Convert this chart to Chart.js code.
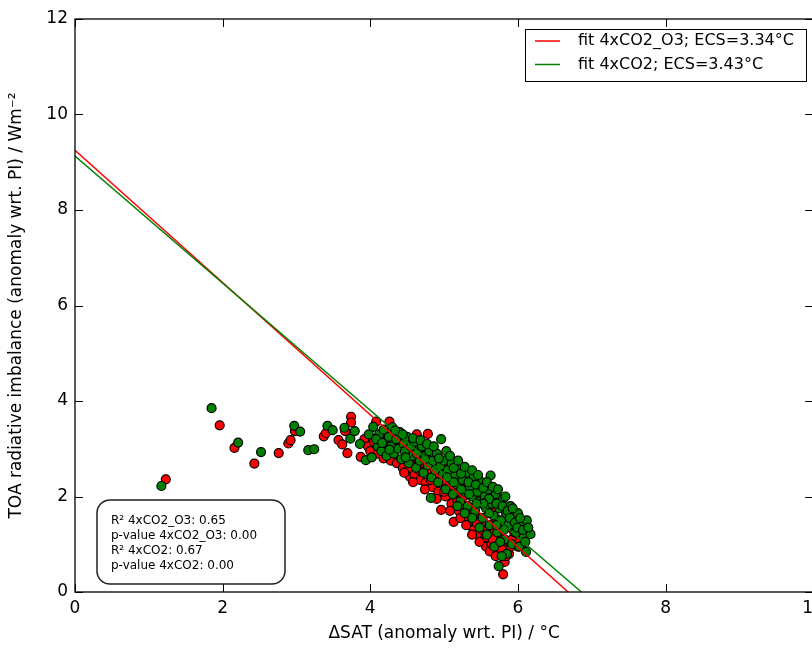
<!DOCTYPE html>
<html>
<head>
<meta charset="utf-8">
<script src="https://cdn.jsdelivr.net/npm/chart.js@4.4.0/dist/chart.umd.min.js"></script>
<style>
  html, body { margin: 0; padding: 0; overflow: hidden; background: #fff; }
  #wrap { width: 812px; height: 648px; overflow: hidden; }
  canvas { display: block; }
</style>
</head>
<body>
<div id="wrap"><canvas id="myChart" width="830" height="648"></canvas></div>
<script>
// data
const xTicks = [0, 2, 4, 6, 8, 10];
const yTicks = [0, 2, 4, 6, 8, 10, 12];

const redX = [1.23, 1.96, 2.16, 2.43, 2.76, 2.89, 2.92, 2.98, 3.37, 3.40, 3.57, 3.62, 3.66, 3.69, 3.74, 3.74, 3.87,
  3.92, 3.97, 4.00, 4.05, 4.08, 4.10, 4.14, 4.18, 4.22, 4.26, 4.28, 4.32, 4.36, 4.40, 4.44, 4.48, 4.52, 4.54, 4.56,
  4.60, 4.63, 4.65, 4.68, 4.72, 4.75, 4.78, 4.80, 4.84, 4.88, 4.92, 4.96, 4.98, 5.02, 5.06, 5.10, 5.13, 5.15, 5.20,
  5.24, 5.28, 5.32, 5.36, 5.40, 5.42, 5.46, 5.50, 5.54, 5.57, 5.60, 5.64, 5.68, 5.72, 5.76, 5.80, 5.82, 5.85, 5.88,
  5.92, 6.00, 6.05, 4.70, 4.90, 5.10, 5.30, 5.50, 5.70, 5.90, 4.50, 4.85, 5.05, 5.25, 5.45, 5.65, 5.85,
  4.46, 4.58, 4.66, 4.74, 4.82, 4.90, 5.00, 5.08, 5.18, 5.22, 5.30, 5.34, 5.38, 5.44, 5.48, 5.52, 5.58, 5.62, 5.66,
  5.70, 5.74, 5.78, 5.84, 5.90, 5.95, 6.02];
const redY = [2.36, 3.49, 3.02, 2.69, 2.91, 3.11, 3.18, 3.37, 3.26, 3.33, 3.18, 3.09, 3.37, 2.91, 3.67, 3.55, 2.83,
  3.20, 3.05, 2.95, 3.15, 3.57, 2.90, 3.10, 2.80, 3.00, 3.57, 2.75, 2.95, 2.70, 3.10, 2.60, 2.85, 2.55, 2.41, 2.80,
  2.45, 3.30, 2.70, 2.35, 2.60, 2.29, 3.31, 2.50, 2.20, 2.40, 2.10, 1.72, 2.30, 2.00, 2.20, 1.85, 1.47, 2.05, 1.70,
  1.95, 1.55, 1.80, 1.40, 1.30, 1.65, 1.20, 1.50, 1.10, 0.95, 1.35, 1.00, 1.25, 0.85, 1.15, 0.37, 0.63, 1.00, 0.80,
  1.10, 0.95, 1.20, 2.90, 2.70, 2.40, 2.15, 1.85, 1.55, 1.35, 3.15, 3.00, 2.60, 2.35, 2.00, 1.75, 1.50,
  2.50, 2.30, 2.55, 2.15, 2.35, 1.95, 2.10, 1.70, 1.90, 1.55, 1.40, 1.65, 1.20, 1.45, 1.05, 1.30, 1.15, 0.85, 1.10,
  0.75, 1.00, 0.90, 0.75, 0.95, 1.25, 1.05];

const greenX = [1.17, 1.85, 2.21, 2.52, 2.97, 3.05, 3.16, 3.24, 3.42, 3.49, 3.65, 3.73, 3.79, 3.94, 3.86, 3.98,
  4.02, 4.04, 4.10, 4.12, 4.15, 4.18, 4.20, 4.22, 4.25, 4.28, 4.30, 4.32, 4.35, 4.38, 4.40, 4.42, 4.45, 4.47, 4.50,
  4.52, 4.55, 4.57, 4.60, 4.62, 4.65, 4.67, 4.70, 4.72, 4.75, 4.78, 4.80, 4.82, 4.83, 4.85, 4.88, 4.90, 4.92, 4.95,
  4.96, 4.98, 5.00, 5.02, 5.05, 5.07, 5.10, 5.12, 5.15, 5.17, 5.20, 5.22, 5.25, 5.27, 5.30, 5.32, 5.35, 5.37, 5.40,
  5.42, 5.45, 5.47, 5.50, 5.52, 5.55, 5.57, 5.60, 5.62, 5.63, 5.65, 5.67, 5.70, 5.72, 5.74, 5.75, 5.77, 5.80, 5.82,
  5.84, 5.85, 5.87, 5.90, 5.92, 5.95, 5.97, 6.00, 6.02, 6.05, 6.08, 6.11, 6.12, 6.17, 5.78, 5.68, 5.58, 5.48, 5.38,
  5.28, 5.18,
  4.08, 4.16, 4.26, 4.34, 4.44, 4.48, 4.58, 4.63, 4.68, 4.74, 4.77, 4.86, 4.93, 5.03, 5.08, 5.13, 5.19, 5.23, 5.28,
  5.33, 5.38, 5.43, 5.46, 5.53, 5.58, 5.61, 5.66, 5.71, 5.73, 5.79, 5.83, 5.86, 5.89, 5.93, 5.96, 5.99, 6.03, 6.07,
  6.10, 6.14, 5.81, 5.76, 5.71, 5.61, 5.53, 5.44, 5.34, 5.23, 5.13, 5.04];
const greenY = [2.22, 3.85, 3.13, 2.93, 3.48, 3.36, 2.97, 2.99, 3.48, 3.39, 3.44, 3.21, 3.37, 2.76, 3.10, 3.30,
  2.82, 3.46, 3.05, 3.30, 2.95, 3.40, 3.15, 2.85, 3.25, 3.05, 3.45, 2.90, 3.20, 3.00, 3.35, 2.78, 3.10, 2.95, 3.25,
  2.70, 3.05, 2.85, 3.15, 2.60, 2.95, 2.75, 3.05, 2.50, 2.85, 2.65, 2.95, 1.97, 2.40, 2.75, 2.55, 2.90, 2.30, 2.65,
  3.20, 2.45, 2.75, 2.15, 2.55, 2.35, 2.70, 2.05, 2.45, 2.25, 2.60, 1.90, 2.35, 2.10, 2.50, 1.80, 2.20, 2.00, 2.40,
  1.70, 2.10, 1.90, 2.30, 1.55, 2.00, 1.75, 2.15, 1.40, 2.44, 1.85, 1.60, 2.05, 1.25, 0.54, 1.75, 1.50, 1.95, 1.10,
  1.65, 0.80, 1.40, 1.80, 1.00, 1.55, 1.25, 1.65, 0.95, 1.40, 1.15, 0.84, 1.50, 1.21, 0.75, 0.95, 1.20, 1.35, 1.55,
  1.65, 1.80,
  3.20, 3.12, 2.98, 3.38, 3.30, 2.82, 3.22, 2.90, 3.18, 2.78, 3.10, 3.05, 2.80, 2.95, 2.85, 2.60, 2.75, 2.48, 2.62,
  2.30, 2.55, 2.25, 2.45, 2.18, 2.30, 1.95, 2.20, 1.85, 2.15, 1.80, 2.00, 1.70, 1.55, 1.75, 1.45, 1.35, 1.55, 1.30,
  1.05, 1.35, 1.30, 1.05, 1.40, 1.65, 1.85, 1.85, 2.05, 2.15, 2.30, 2.40];

// fit lines: [x at start, x at end] and [y at start, y at end]
const fitRedX = [0, 6.68];
const fitRedY = [9.25, 0];
const fitGreenX = [0, 6.86];
const fitGreenY = [9.13, 0];

const legendLabels = ["fit 4xCO2_O3; ECS=3.34°C", "fit 4xCO2; ECS=3.43°C"];
const statsLines = ["R² 4xCO2_O3: 0.65", "p-value 4xCO2_O3: 0.00", "R² 4xCO2: 0.67", "p-value 4xCO2: 0.00"];

const RED = "#ff0000";
const GREEN = "#008000";
const FONT = "'DejaVu Sans', sans-serif";

function toPoints(xs, ys) {
  return xs.map((x, i) => ({ x: x, y: ys[i] }));
}

// frame, inward ticks, legend and stats box
const extras = {
  id: 'extras',
  afterDraw(chart) {
    const c = chart.ctx;
    const a = chart.chartArea;
    const sx = chart.scales.x, sy = chart.scales.y;
    c.save();
    c.strokeStyle = '#000';
    c.lineWidth = 1.3;
    c.strokeRect(a.left, a.top, a.right - a.left, a.bottom - a.top);
    c.lineWidth = 1;
    xTicks.forEach(v => {
      const px = Math.round(sx.getPixelForValue(v)) + 0.5;
      c.beginPath();
      c.moveTo(px, a.bottom); c.lineTo(px, a.bottom - 8);
      c.moveTo(px, a.top); c.lineTo(px, a.top + 8);
      c.stroke();
    });
    yTicks.forEach(v => {
      const py = Math.round(sy.getPixelForValue(v)) + 0.5;
      c.beginPath();
      c.moveTo(a.left, py); c.lineTo(a.left + 8, py);
      c.moveTo(a.right, py); c.lineTo(a.right - 8, py);
      c.stroke();
    });

    // legend
    c.fillStyle = '#fff';
    c.fillRect(525, 29, 281, 52);
    c.strokeStyle = '#000';
    c.lineWidth = 1;
    c.strokeRect(525.5, 29.5, 281, 52);
    c.font = "16px " + FONT;
    c.textBaseline = 'middle';
    c.textAlign = 'left';
    [RED, GREEN].forEach((col, i) => {
      const y = 41 + i * 23.5;
      c.strokeStyle = col;
      c.lineWidth = 1.5;
      c.beginPath();
      c.moveTo(535, y); c.lineTo(560, y);
      c.stroke();
      c.fillStyle = '#000';
      c.fillText(legendLabels[i], 578, y);
    });

    // stats box
    c.strokeStyle = '#222';
    c.lineWidth = 1.5;
    c.fillStyle = '#fff';
    c.beginPath();
    c.roundRect(97, 500, 188, 84, 13);
    c.fill();
    c.stroke();
    c.fillStyle = '#000';
    c.font = "12px " + FONT;
    statsLines.forEach((t, i) => {
      c.fillText(t, 111, 521 + i * 15);
    });
    c.restore();
  }
};

const ctx = document.getElementById("myChart").getContext("2d");

const chart = new Chart(ctx, {
  type: 'scatter',
  data: {
    datasets: [
      {
        label: 'fit 4xCO2',
        data: toPoints(fitGreenX, fitGreenY),
        showLine: true,
        borderColor: GREEN,
        borderWidth: 1.5,
        pointRadius: 0
      },
      {
        label: 'fit 4xCO2_O3',
        data: toPoints(fitRedX, fitRedY),
        showLine: true,
        borderColor: RED,
        borderWidth: 1.5,
        pointRadius: 0
      },
      {
        label: '4xCO2',
        data: toPoints(greenX, greenY),
        backgroundColor: GREEN,
        borderColor: '#000',
        borderWidth: 1.2,
        pointRadius: 4.5
      },
      {
        label: '4xCO2_O3',
        data: toPoints(redX, redY),
        backgroundColor: RED,
        borderColor: '#000',
        borderWidth: 1.2,
        pointRadius: 4.5
      }
    ]
  },
  options: {
    responsive: false,
    animation: false,
    layout: { padding: { top: 19, right: 12, left: 0, bottom: 0 } },
    scales: {
      x: {
        type: 'linear',
        min: 0,
        max: 10,
        afterBuildTicks: s => { s.ticks = xTicks.map(v => ({ value: v })); },
        afterFit: s => { s.height = 56; },
        grid: { display: false, drawTicks: false },
        border: { display: false },
        ticks: { color: '#000', font: { family: FONT, size: 17 }, padding: 6, maxRotation: 0 },
        title: {
          display: true,
          text: 'ΔSAT (anomaly wrt. PI) / °C',
          color: '#000',
          font: { family: FONT, size: 17 },
          padding: { top: 0, bottom: 4 }
        }
      },
      y: {
        type: 'linear',
        min: 0,
        max: 12,
        afterBuildTicks: s => { s.ticks = yTicks.map(v => ({ value: v })); },
        afterFit: s => { s.width = 75; },
        grid: { display: false, drawTicks: false },
        border: { display: false },
        ticks: { color: '#000', font: { family: FONT, size: 17 }, padding: 7 },
        title: {
          display: true,
          text: 'TOA radiative imbalance (anomaly wrt. PI) / Wm⁻²',
          color: '#000',
          font: { family: FONT, size: 17 },
          padding: { top: 6, bottom: 0 }
        }
      }
    },
    plugins: {
      legend: { display: false },
      tooltip: { enabled: false }
    }
  },
  plugins: [extras]
});
</script>
</body>
</html>
